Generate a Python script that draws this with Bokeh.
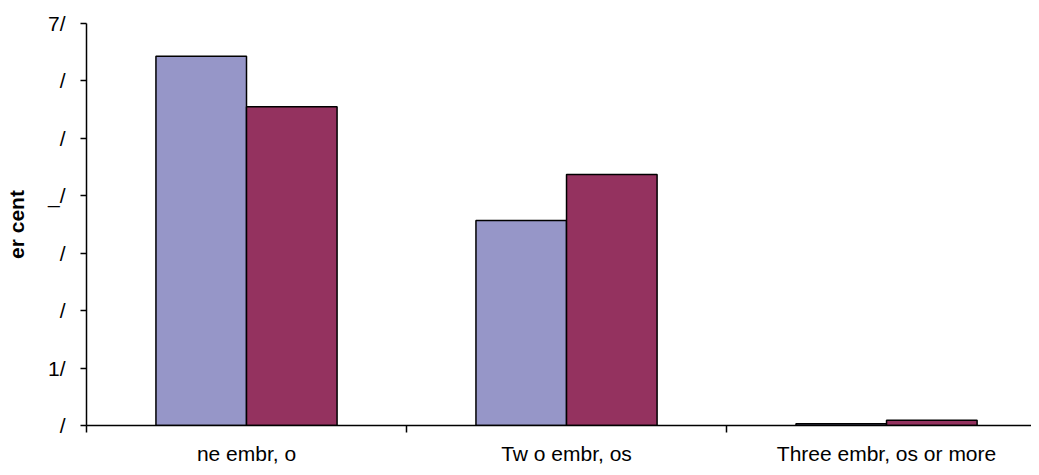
from bokeh.plotting import figure
from bokeh.models import ColumnDataSource, Range1d, FixedTicker
from bokeh.transform import dodge
from bokeh.embed import file_html
from bokeh.resources import INLINE

categories = ["ne embr, o", "Tw o embr, os", "Three embr, os or more"]
series_a = [64.3, 35.7, 0.3]
series_b = [55.5, 43.7, 0.9]
y_ticks = [0, 10, 20, 30, 40, 50, 60, 70]
y_tick_labels = ["/", "1/", "/", "/", "_/", "/", "/", "7/"]
y_title = "er cent"

pos = [i + 0.5 for i in range(len(categories))]
src = ColumnDataSource(dict(x=pos, a=series_a, b=series_b))

FONT = "Liberation Sans"

p = figure(width=1031, height=467, x_range=Range1d(0, 2.953), y_range=Range1d(0, 70),
           output_backend="svg", toolbar_location=None,
           min_border_left=86, min_border_right=0, min_border_top=23, min_border_bottom=42)
p.outline_line_color = None
p.xgrid.visible = False
p.ygrid.visible = False
p.background_fill_color = "white"

w = 0.283
p.vbar(x=dodge("x", -w / 2, range=p.x_range), top="a", width=w, source=src,
       fill_color="#9696C8", line_color="black", line_width=1.5)
p.vbar(x=dodge("x", w / 2, range=p.x_range), top="b", width=w, source=src,
       fill_color="#94325F", line_color="black", line_width=1.5)

# y axis
ya = p.yaxis[0]
ya.ticker = FixedTicker(ticks=y_ticks)
ya.major_label_overrides = {t: l for t, l in zip(y_ticks, y_tick_labels)}
ya.major_tick_in = 0
ya.major_tick_out = 6
ya.minor_tick_line_color = None
ya.axis_line_color = "black"
ya.axis_line_width = 1.5
ya.major_tick_line_color = "black"
ya.major_tick_line_width = 1.5
ya.major_label_text_font = FONT
ya.major_label_text_font_size = "21px"
ya.major_label_text_color = "black"
ya.major_label_standoff = 15
ya.axis_label = y_title
ya.axis_label_text_font = FONT
ya.axis_label_text_font_size = "21px"
ya.axis_label_text_font_style = "bold"
ya.axis_label_text_color = "black"
ya.axis_label_standoff = 17

# x axis
xa = p.xaxis[0]
xa.ticker = FixedTicker(ticks=pos, minor_ticks=[0, 1, 2, 3])
xa.major_label_overrides = {t: c for t, c in zip(pos, categories)}
xa.major_tick_line_color = None
xa.major_tick_in = 0
xa.major_tick_out = 0
xa.minor_tick_in = 0
xa.minor_tick_out = 7
xa.minor_tick_line_color = "black"
xa.minor_tick_line_width = 1.5
xa.axis_line_color = "black"
xa.axis_line_width = 1.5
xa.major_label_text_font = FONT
xa.major_label_text_font_size = "21px"
xa.major_label_text_color = "black"
xa.major_label_standoff = 9

open("out.html", "w").write(file_html(p, INLINE))
